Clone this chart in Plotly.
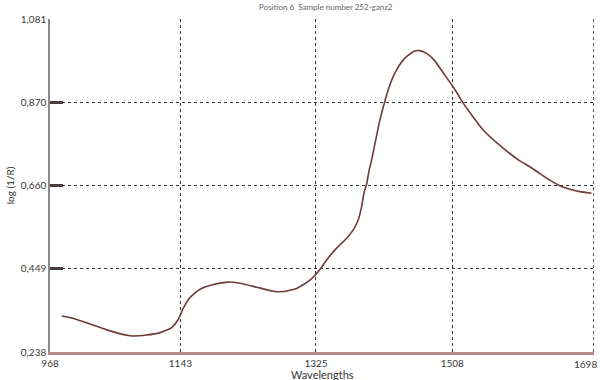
import plotly.graph_objects as go

wavelengths = [983.7, 999.3, 1021.7, 1044.1, 1075.4, 1097.8, 1115.6, 1131.3, 1140.2, 1146.9,
               1155.9, 1169.3, 1187.1, 1207.3, 1223.0, 1245.4, 1267.6, 1281.1, 1299.1, 1316.9,
               1330.3, 1339.3, 1352.7, 1366.2, 1375.0, 1381.7, 1386.3, 1389.4, 1393.0, 1396.5,
               1399.7, 1410.8, 1417.5, 1424.2, 1433.2, 1444.4, 1455.5, 1463.6, 1473.5, 1484.6,
               1495.8, 1512.4, 1522.6, 1549.5, 1576.3, 1598.7, 1612.1, 1625.5, 1638.9, 1652.4,
               1665.8, 1679.2, 1694.9]
log_inv_r = [0.329, 0.323, 0.309, 0.294, 0.279, 0.281, 0.287, 0.300, 0.321, 0.349,
             0.376, 0.397, 0.409, 0.415, 0.412, 0.402, 0.392, 0.391, 0.399, 0.420,
             0.447, 0.471, 0.501, 0.526, 0.547, 0.572, 0.606, 0.640, 0.663, 0.699,
             0.724, 0.825, 0.873, 0.914, 0.952, 0.982, 0.998, 1.001, 0.994, 0.975,
             0.945, 0.900, 0.868, 0.800, 0.754, 0.722, 0.707, 0.690, 0.673, 0.659,
             0.650, 0.644, 0.640]

x_ticks = [968, 1143, 1325, 1508, 1698]
x_tick_text = ["968", "1143", "1325", "1508", "1698"]
y_ticks = [0.238, 0.449, 0.660, 0.870, 1.081]
y_tick_text = ["0,238", "0,449", "0,660", "0,870", "1,081"]

fig = go.Figure()
fig.add_trace(go.Scatter(
    x=wavelengths, y=log_inv_r, mode="lines",
    line=dict(color="#6e3a3a", width=1.6, shape="spline", smoothing=0.5),
    showlegend=False, hoverinfo="skip"))

font_family = "Lato, 'Open Sans', sans-serif"
fig.update_layout(
    width=600, height=380,
    margin=dict(l=50, r=6, t=19, b=28),
    paper_bgcolor="white", plot_bgcolor="white",
    font=dict(family=font_family, size=10, color="#3a3a3a"),
    xaxis=dict(range=[967.9, 1698.3], tickvals=x_ticks[:-1], ticktext=x_tick_text[:-1],
               showgrid=True, gridcolor="#333333", griddash="dot", gridwidth=1.2,
               showline=True, linecolor="#b58a88", linewidth=2.5,
               ticks="", zeroline=False, automargin=False,
               tickfont=dict(size=10, color="#3a3a3a")),
    yaxis=dict(range=[0.238, 1.081], tickvals=y_ticks, ticktext=y_tick_text,
               showgrid=True, gridcolor="#333333", griddash="dot", gridwidth=1.2,
               showline=True, linecolor="#8a8a8a", linewidth=1.5,
               ticks="inside", ticklen=13, tickwidth=2.5, tickcolor="#4a3a3a",
               zeroline=False, automargin=False,
               title=dict(text="log (1/R)", font=dict(size=10, color="#333"), standoff=4),
               tickfont=dict(size=10, color="#3a3a3a")),
    shapes=[dict(type="line", xref="x", yref="paper", x0=x_ticks[-1], x1=x_ticks[-1],
                 y0=0, y1=1, line=dict(color="#333333", width=1.2, dash="dot"))],
    annotations=[
        dict(text=x_tick_text[-1], xref="x", yref="paper", x=x_ticks[-1], y=-12 / 333,
             xanchor="right", yanchor="middle", xshift=5, showarrow=False,
             font=dict(size=10, color="#3a3a3a")),
        dict(text="Wavelengths", xref="paper", yref="paper", x=(322 - 50) / 544, y=-22 / 333,
             xanchor="center", yanchor="middle", showarrow=False,
             font=dict(size=11, color="#333")),
        dict(text="Position 6  Sample number 252-ganz2", xref="paper", yref="paper",
             x=(326 - 50) / 544, y=1 + 12 / 333, xanchor="center", yanchor="middle",
             showarrow=False, font=dict(size=8, color="#666")),
    ],
)

fig.write_html("out.html", config={"displayModeBar": False},
               post_script="document.body.style.margin='0';")
